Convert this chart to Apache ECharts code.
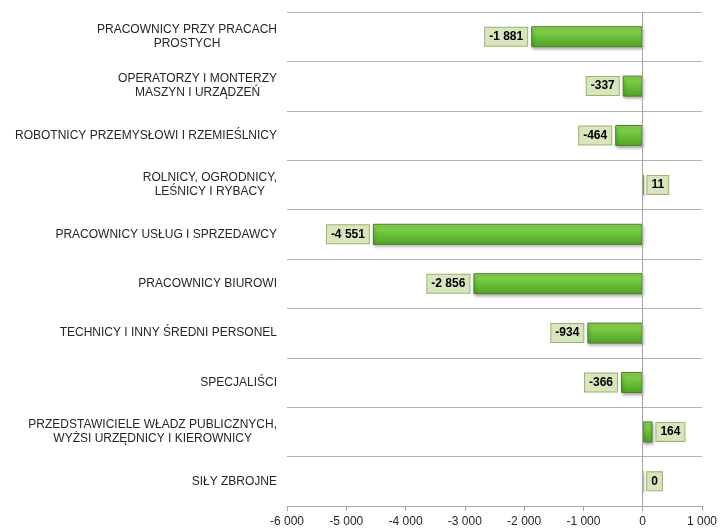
<!DOCTYPE html>
<html>
<head>
<meta charset="utf-8">
<script src="https://cdn.jsdelivr.net/npm/echarts@6/dist/echarts.min.js"></script>
<style>
  html, body { margin: 0; padding: 0; background: #fff; }
  #chart { width: 720px; height: 528px; }
</style>
</head>
<body>
<div id="chart"></div>
<script>
const categories = [
  'PRACOWNICY PRZY PRACACH\nPROSTYCH',
  'OPERATORZY I MONTERZY\nMASZYN I URZĄDZEŃ',
  'ROBOTNICY PRZEMYSŁOWI I RZEMIEŚLNICY',
  'ROLNICY, OGRODNICY,\nLEŚNICY I RYBACY',
  'PRACOWNICY USŁUG I SPRZEDAWCY',
  'PRACOWNICY BIUROWI',
  'TECHNICY I INNY ŚREDNI PERSONEL',
  'SPECJALIŚCI',
  'PRZEDSTAWICIELE WŁADZ PUBLICZNYCH,\nWYŻSI URZĘDNICY I KIEROWNICY',
  'SIŁY ZBROJNE'
]
const values = [-1881, -337, -464, 11, -4551, -2856, -934, -366, 164, 0]

const fontFamily = '"Liberation Sans", Arial, sans-serif'

// space as thousands separator, like "-4 551"
function fmt(v) {
  return String(v).replace(/\B(?=(\d{3})+(?!\d))/g, ' ')
}

const chart = echarts.init(document.getElementById('chart'))

chart.setOption({
  animation: false,
  grid: { left: 287, right: 18, top: 12, bottom: 21, containLabel: false },
  xAxis: {
    type: 'value',
    min: -6000,
    max: 1000,
    interval: 1000,
    axisLine: { show: true, lineStyle: { color: '#a6a6a6', width: 1 } },
    axisTick: { show: true, length: 5, lineStyle: { color: '#a6a6a6' } },
    axisLabel: {
      color: '#262626',
      fontSize: 12,
      fontFamily,
      margin: 10,
      formatter: (v) => fmt(v)
    },
    splitLine: { show: false }
  },
  yAxis: {
    type: 'category',
    data: categories,
    inverse: true,
    axisLine: { show: false, onZero: false },
    axisTick: { show: false },
    splitLine: { show: true, lineStyle: { color: '#b3b3b3', width: 1 } },
    axisLabel: {
      margin: 10,
      color: '#262626',
      fontFamily,
      fontSize: 12,
      formatter: (s) => s.split('\n').map((l) => '{c|' + l + '}').join('\n'),
      rich: {
        c: { align: 'center', fontSize: 12, lineHeight: 14, fontFamily, color: '#262626' }
      }
    }
  },
  series: [
    {
      type: 'bar',
      barWidth: 21,
      data: values.map((v) => ({
        value: v,
        label: { position: v < 0 ? 'left' : 'right' }
      })),
      itemStyle: {
        color: new echarts.graphic.LinearGradient(0, 0, 0, 1, [
          { offset: 0, color: '#93dc5c' },
          { offset: 0.45, color: '#6dc33a' },
          { offset: 1, color: '#51a126' }
        ]),
        borderColor: '#4f7f28',
        borderWidth: 1,
        shadowColor: 'rgba(0,0,0,0.35)',
        shadowBlur: 3,
        shadowOffsetX: 1,
        shadowOffsetY: 2
      },
      label: {
        show: true,
        distance: 4,
        formatter: (p) => fmt(p.value),
        color: '#000',
        fontWeight: 'bold',
        fontSize: 12,
        fontFamily,
        lineHeight: 13,
        backgroundColor: '#d8e5bf',
        borderColor: '#98b468',
        borderWidth: 1,
        padding: [3, 4, 2, 4]
      },
      markLine: {
        silent: true,
        symbol: 'none',
        label: { show: false },
        lineStyle: { color: '#a6a6a6', type: 'solid', width: 1 },
        data: [{ xAxis: 0 }]
      }
    }
  ]
})
</script>
</body>
</html>
